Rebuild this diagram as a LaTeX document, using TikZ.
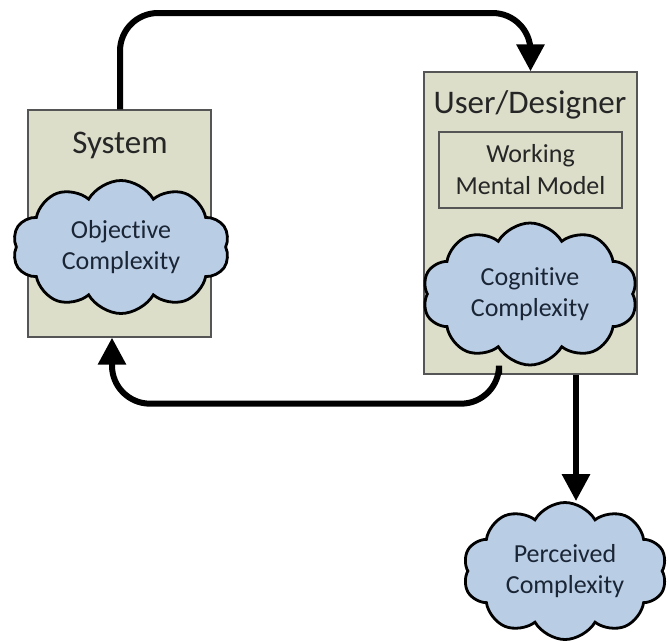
\documentclass[tikz,border=0pt]{standalone}
\usepackage{fontspec}
\setmainfont{Carlito}[Ligatures=NoCommon]
\usetikzlibrary{shapes.symbols,arrows.meta}
\definecolor{boxfill}{HTML}{DCDECA}
\definecolor{cloudfill}{HTML}{B9CDE5}
\definecolor{cloudtext}{HTML}{1A2535}
\definecolor{boxline}{HTML}{555555}
\tikzset{
  panel/.style={draw=boxline, line width=1.3pt, fill=boxfill, rectangle, inner sep=0pt},
  inbox/.style={draw=boxline, line width=1.3pt, fill=boxfill, rectangle, inner sep=0pt, align=center,
    font=\fontsize{26}{32}\selectfont, text=black!85},
  heading/.style={inner sep=0pt, font=\fontsize{33}{40}\selectfont, text=black!85},
  puff/.style={cloud, cloud puffs=10, cloud puff arc=120, cloud ignores aspect, draw=black,
    line width=2.8pt, fill=cloudfill, inner sep=0pt, align=center,
    font=\fontsize{26}{31}\selectfont, text=cloudtext},
  flow/.style={line width=6pt, rounded corners=38pt, -{Triangle[width=27pt,length=27pt]}}
}
\begin{document}
\begin{tikzpicture}[x=1pt,y=-1pt]
\useasboundingbox (0,0) rectangle (668,641);
% boxes
\node[panel, minimum width=183pt, minimum height=227pt] (sys) at (119.5,223.5) {};
\node[panel, minimum width=213pt, minimum height=302pt] (user) at (530.5,223) {};
\node[heading] (systxt) at (120,145) {System};
\node[heading] (usertxt) at (530,105) {User/Designer};
\node[inbox, minimum width=183pt, minimum height=76pt] (wmm) at (530.5,170) {Working\\Mental Model};
% clouds
\node[puff, minimum width=217pt, minimum height=133pt] (obj) at (121,247) {Objective\\Complexity};
\node[puff, minimum width=215pt, minimum height=142pt] (cog) at (530,294) {Cognitive\\Complexity};
\node[puff, minimum width=204pt, minimum height=137pt] (perc) at (565,571) {Perceived\\Complexity};
% connectors
\coordinate (topy) at (0,13);
\coordinate (bx) at (499,0);
\coordinate (lx) at (112,0);
\coordinate (dx) at (576,0);
\draw[flow] (sys.north -| systxt) -- (systxt |- topy) -| (user.north);
\draw[flow] (user.south -| bx) -- ++(0,29) -| (sys.south -| lx);
\draw[flow] (user.south -| dx) -- (dx |- perc.north);
\end{tikzpicture}
\end{document}
